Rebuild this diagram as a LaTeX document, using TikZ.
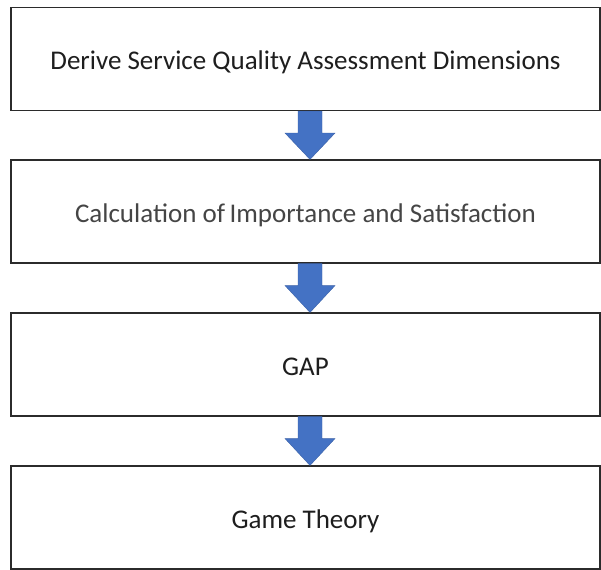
\documentclass[tikz,border=0pt]{standalone}
\usepackage{fontspec}
\setmainfont{Carlito}
\usetikzlibrary{calc}
\definecolor{arrowblue}{HTML}{4472C4}
\definecolor{boxline}{HTML}{2B2B2B}
\definecolor{txtdark}{HTML}{1E1E1E}
\definecolor{txtgray}{HTML}{454545}
\tikzset{
  stagebox/.style={draw=boxline, line width=1.1pt, fill=white, rectangle,
    minimum width=589pt, minimum height=103pt, inner sep=0pt,
    text height=21pt, text depth=0pt,
    font=\fontsize{27}{32}\selectfont, text=txtdark},
  flowarrow/.style={fill=arrowblue, draw=arrowblue!85!black, line width=0.4pt}
}
\begin{document}
\begin{tikzpicture}[x=1pt,y=1pt]
\useasboundingbox (0,0) rectangle (601,-569);
\node[stagebox] (b1) at (305.5,-59) {Derive Service Quality Assessment Dimensions};
\node[stagebox, text=txtgray] (b2) at (305.5,-211.5) {Calculation of\,Importance and Satisfaction};
\node[stagebox] (b3) at (305.5,-364.5) {GAP};
\node[stagebox] (b4) at (305.5,-517.5) {Game Theory};
\foreach \a/\b in {b1/b2, b2/b3, b3/b4}{
  \fill[flowarrow]
    ($(\a.south)+(-7.5,0)$) -- ($(\a.south)+(16.5,0)$) --
    ($(\a.south)+(16.5,-22)$) -- ($(\a.south)+(29.5,-22)$) --
    ($(\b.north)+(4.5,0)$) --
    ($(\a.south)+(-20.5,-22)$) -- ($(\a.south)+(-7.5,-22)$) -- cycle;
}
\end{tikzpicture}
\end{document}
